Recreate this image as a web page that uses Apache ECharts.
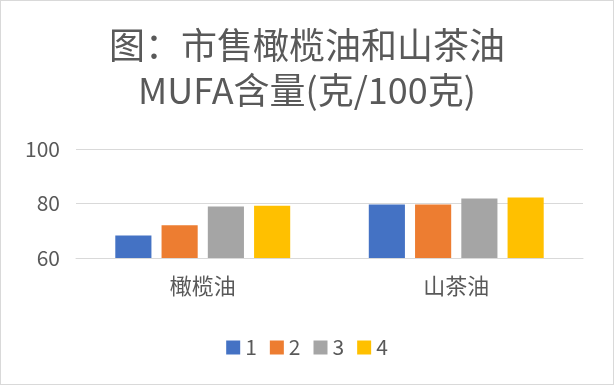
<!DOCTYPE html>
<html><head><meta charset="utf-8">
<script src="https://cdn.jsdelivr.net/npm/echarts@6/dist/echarts.min.js"></script>
<style>html,body{margin:0;padding:0;background:#fff}#c{width:614px;height:385px;box-sizing:border-box;border:1px solid #d9d9d9}</style>
</head><body><div id="c"></div>
<script>
var categories = ['橄榄油', '山茶油'];
var seriesNames = ['1', '2', '3', '4'];
var s1 = [68.3, 79.6];
var s2 = [72.0, 79.6];
var s3 = [78.9, 81.8];
var s4 = [79.2, 82.2];
var yTicks = [60, 80, 100];
var colors = ['#4472C4', '#ED7D31', '#A5A5A5', '#FFC000'];
var font = '"Noto Sans CJK SC", "Noto Sans", sans-serif';
var chart = echarts.init(document.getElementById('c'), null, {renderer: 'canvas'});
var data = [s1, s2, s3, s4];
chart.setOption({
  animation: false,
  color: colors,
  title: {
    text: '图：市售橄榄油和山茶油\nMUFA含量(克/100克)',
    left: 'center', top: 17,
    textStyle: {fontFamily: font, fontSize: 36, fontWeight: 'normal', color: '#595959', lineHeight: 45}
  },
  legend: {
    top: 331, left: 'center',
    itemWidth: 14, itemHeight: 14, itemGap: 13,
    icon: 'rect',
    textStyle: {fontFamily: font, fontSize: 21, color: '#595959'},
    data: seriesNames
  },
  grid: {left: 75, right: 30, top: 148, bottom: 126},
  xAxis: {
    type: 'category', data: categories,
    axisLine: {lineStyle: {color: '#d9d9d9', width: 1}},
    axisTick: {show: false},
    axisLabel: {fontFamily: font, fontSize: 22, color: '#595959', margin: 17}
  },
  yAxis: {
    type: 'value', min: yTicks[0], max: yTicks[yTicks.length - 1], interval: 20,
    axisLine: {show: false}, axisTick: {show: false},
    splitLine: {lineStyle: {color: '#d9d9d9', width: 1}},
    axisLabel: {fontFamily: font, fontSize: 21, color: '#595959', margin: 16}
  },
  series: seriesNames.map(function (n, i) {
    return {name: n, type: 'bar', data: data[i], barGap: '28%', barCategoryGap: '31%'};
  })
});
</script></body></html>
